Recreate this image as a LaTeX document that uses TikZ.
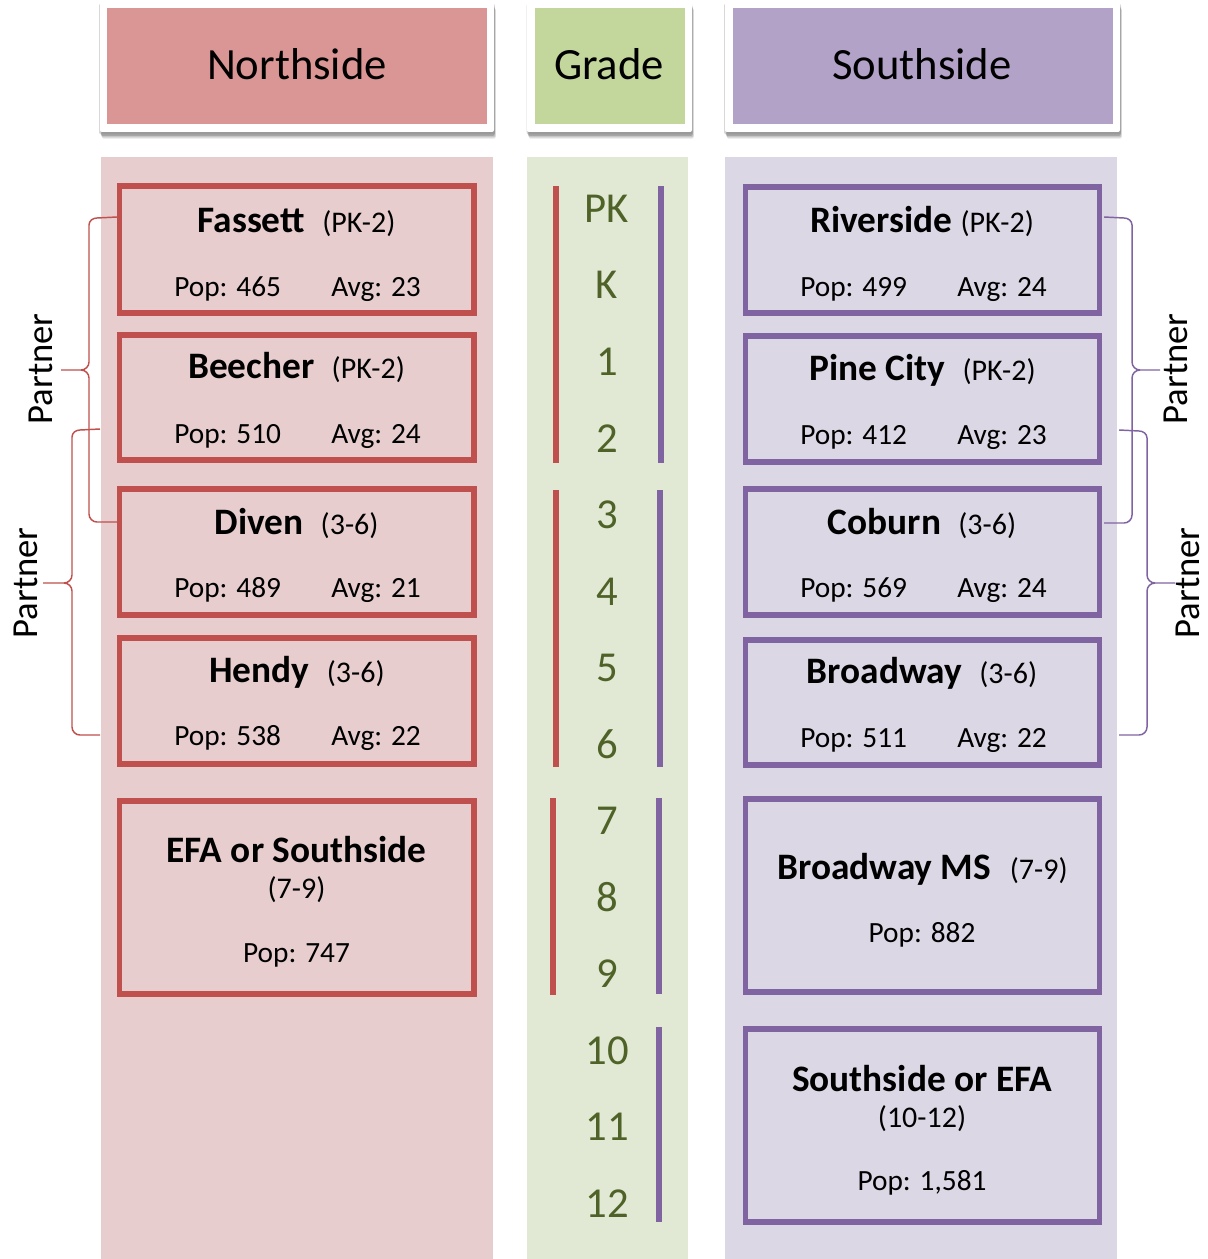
\documentclass[tikz,border=0pt]{standalone}
\usepackage{fontspec}
\setmainfont{Carlito}
\usetikzlibrary{fit,shadows}
\definecolor{nsred}{HTML}{C0504D}
\definecolor{sspur}{HTML}{8064A2}
\definecolor{nshead}{HTML}{D99694}
\definecolor{grhead}{HTML}{C3D69B}
\definecolor{sshead}{HTML}{B3A2C7}
\definecolor{nsbg}{HTML}{E7CDCE}
\definecolor{grbg}{HTML}{E1E9D5}
\definecolor{ssbg}{HTML}{DCD7E5}
\definecolor{grtxt}{HTML}{4F6228}
\newcommand{\rngf}{\fontsize{22.5}{25}\selectfont\mdseries}
\begin{document}
\begin{tikzpicture}[x=0.75pt,y=-0.75pt,
  colbg/.style={inner sep=0pt, draw=none},
  hdout/.style={inner sep=0pt, fill=white, rounded corners=1.5pt,
    drop shadow={shadow xshift=1.4pt, shadow yshift=-5pt, opacity=0.2},
    drop shadow={shadow xshift=1pt, shadow yshift=-4pt, opacity=0.3},
    drop shadow={shadow xshift=0.6pt, shadow yshift=-3pt, opacity=0.45},
    drop shadow={shadow xshift=0pt, shadow yshift=-1.5pt, shadow scale=1.005, opacity=0.3}},
  hdin/.style={inner sep=0pt, draw=none},
  hdtxt/.style={font=\fontsize{33.5}{36}\selectfont, anchor=base, inner sep=0pt},
  sbox/.style={inner sep=0pt, line width=4pt},
  redbox/.style={sbox, draw=nsred},
  purbox/.style={sbox, draw=sspur},
  sname/.style={font=\fontsize{28}{30}\selectfont\bfseries, anchor=base, inner sep=0pt},
  srng/.style={font=\rngf, anchor=base, inner sep=0pt},
  pop/.style={font=\fontsize{22}{24}\selectfont, anchor=base west, inner sep=0pt},
  popc/.style={font=\fontsize{22}{24}\selectfont, anchor=base, inner sep=0pt},
  grade/.style={font=\fontsize{32}{36}\selectfont, text=grtxt, anchor=base, inner sep=0pt},
  partner/.style={font=\fontsize{27.5}{30}\selectfont, rotate=90, anchor=base, inner sep=0pt},
  brace/.style={line width=1.1pt},
  gline/.style={line width=4.5pt}]
\useasboundingbox (0,0) rectangle (1207,1259);
\fill[white] (0,0) rectangle (1207,1259);

% column backgrounds
\node[colbg, fill=nsbg, fit={(101,157)(493,1259)}] (nscol) {};
\node[colbg, fill=grbg, fit={(527,157)(688,1259)}] (grcol) {};
\node[colbg, fill=ssbg, fit={(725,157)(1117,1259)}] (sscol) {};

% headers
\node[hdout, fit={(100,2)(494,132)}] (nshdo) {};
\node[hdin, fill=nshead, fit={(107,8)(487,124)}] (nshd) {};
\node[hdtxt] (nshdt) at (297,80) {Northside};
\node[hdout, fit={(527,2)(692,132)}] (grhdo) {};
\node[hdin, fill=grhead, fit={(535,8)(685,124)}] (grhd) {};
\node[hdtxt] (grhdt) at (609,80) {Grade};
\node[hdout, fit={(725,2)(1120,132)}] (sshdo) {};
\node[hdin, fill=sshead, fit={(733,8)(1113,124)}] (sshd) {};
\node[hdtxt] (sshdt) at (922,80) {Southside};

% Northside boxes
\node[redbox, fit={(119.5,186)(474,313)}] (fas) {};
\node[sname] (fasn) at (296.5,232) {Fassett\hspace{13pt}{\rngf (PK-2)}};
\node[pop] (fasp) at (174,296) {Pop: 465};
\node[pop] (fasa) at (331,296) {Avg: 23};

\node[redbox, fit={(119.5,335)(474,460)}] (bee) {};
\node[sname] (been) at (296.5,378) {Beecher\hspace{13pt}{\rngf (PK-2)}};
\node[pop] (beep) at (174,443) {Pop: 510};
\node[pop] (beea) at (331,443) {Avg: 24};

\node[redbox, fit={(119.5,489)(474,615)}] (div) {};
\node[sname] (divn) at (296.5,534) {Diven\hspace{13pt}{\rngf (3-6)}};
\node[pop] (divp) at (174,597) {Pop: 489};
\node[pop] (diva) at (331,597) {Avg: 21};

\node[redbox, fit={(119.5,638)(474,764)}] (hen) {};
\node[sname] (henn) at (297,682) {Hendy\hspace{13pt}{\rngf (3-6)}};
\node[pop] (henp) at (174,745) {Pop: 538};
\node[pop] (hena) at (331,745) {Avg: 22};

\node[redbox, fit={(119.5,801)(474,994)}] (efa) {};
\node[sname] (efan) at (296.5,862) {EFA or Southside};
\node[srng] (efar) at (296.5,898) {(7-9)};
\node[popc] (efap) at (296.5,962) {Pop: 747};

% Southside boxes
\node[purbox, fit={(745.5,187)(1099.5,313)}] (riv) {};
\node[sname] (rivn) at (922,232) {Riverside {\rngf (PK-2)}};
\node[pop] (rivp) at (800,296) {Pop: 499};
\node[pop] (riva) at (957,296) {Avg: 24};

\node[purbox, fit={(745.5,336)(1099.5,462)}] (pin) {};
\node[sname] (pinn) at (922.5,380) {Pine City\hspace{13pt}{\rngf (PK-2)}};
\node[pop] (pinp) at (800,444) {Pop: 412};
\node[pop] (pina) at (957,444) {Avg: 23};

\node[purbox, fit={(745.5,489)(1099.5,615)}] (cob) {};
\node[sname] (cobn) at (922,534) {Coburn\hspace{13pt}{\rngf (3-6)}};
\node[pop] (cobp) at (800,597) {Pop: 569};
\node[pop] (coba) at (957,597) {Avg: 24};

\node[purbox, fit={(745.5,640)(1099.5,765)}] (bro) {};
\node[sname] (bron) at (922,683) {Broadway\hspace{13pt}{\rngf (3-6)}};
\node[pop] (brop) at (800,747) {Pop: 511};
\node[pop] (broa) at (957,747) {Avg: 22};

\node[purbox, fit={(745.5,799)(1099.5,992)}] (bms) {};
\node[sname] (bmsn) at (922.5,879) {Broadway MS\hspace{14pt}{\rngf (7-9)}};
\node[popc] (bmsp) at (922,942) {Pop: 882};

\node[purbox, fit={(745.5,1029)(1099.5,1222)}] (sef) {};
\node[sname] (sefn) at (922,1091) {Southside or EFA};
\node[srng] (sefr) at (922,1127) {(10-12)};
\node[popc] (sefp) at (922,1190) {Pop: 1,581};

% grade labels
\node[grade] (gPK) at (607,222) {PK};
\node[grade] (gK) at (607,298.5) {K};
\node[grade] (g1) at (607,375) {1};
\node[grade] (g2) at (607,452) {2};
\node[grade] (g3) at (607,528) {3};
\node[grade] (g4) at (607,605) {4};
\node[grade] (g5) at (607,681) {5};
\node[grade] (g6) at (607,758) {6};
\node[grade] (g7) at (607,834) {7};
\node[grade] (g8) at (607,911) {8};
\node[grade] (g9) at (607,987) {9};
\node[grade] (g10) at (607,1064) {10};
\node[grade] (g11) at (607,1140) {11};
\node[grade] (g12) at (607,1217) {12};

% grade span lines
\draw[gline, nsred] (556,186) -- (556,463);
\draw[gline, sspur] (661,186) -- (661,463);
\draw[gline, nsred] (556,490) -- (556,767);
\draw[gline, sspur] (660,490) -- (660,767);
\draw[gline, nsred] (553,798) -- (553,995);
\draw[gline, sspur] (659,798) -- (659,994);
\draw[gline, sspur] (659,1027) -- (659,1222);

% braces
\coordinate (bA1) at (117,217); \coordinate (bA2) at (117,522); \coordinate (bAt) at (61,370);
\draw[brace, nsred] (bA1) -- (97,218) to[out=180,in=90] (89,225) -- (89,362)
  to[out=-90,in=0] (81,370) -- (bAt);
\draw[brace, nsred] (81,370) to[out=0,in=90] (89,378) -- (89,514)
  to[out=-90,in=180] (97,522) -- (bA2);
\coordinate (bB1) at (100,429); \coordinate (bB2) at (100,735); \coordinate (bBt) at (43,583);
\draw[brace, nsred] (bB1) -- (80,430) to[out=180,in=90] (72,437) -- (72,575)
  to[out=-90,in=0] (64,583) -- (bBt);
\draw[brace, nsred] (64,583) to[out=0,in=90] (72,591) -- (72,727)
  to[out=-90,in=180] (80,735) -- (bB2);
\coordinate (bC1) at (1104,217); \coordinate (bC2) at (1104,523); \coordinate (bCt) at (1160,370);
\draw[brace, sspur] (bC1) -- (1124,218) to[out=0,in=90] (1132,225) -- (1132,362)
  to[out=-90,in=180] (1140,370) -- (bCt);
\draw[brace, sspur] (1140,370) to[out=180,in=90] (1132,378) -- (1132,515)
  to[out=-90,in=0] (1124,523) -- (bC2);
\coordinate (bD1) at (1119,430); \coordinate (bD2) at (1119,735); \coordinate (bDt) at (1175,583);
\draw[brace, sspur] (bD1) -- (1139,431) to[out=0,in=90] (1147,438) -- (1147,575)
  to[out=-90,in=180] (1155,583) -- (bDt);
\draw[brace, sspur] (1155,583) to[out=180,in=90] (1147,591) -- (1147,727)
  to[out=-90,in=0] (1139,735) -- (bD2);

% partner labels
\node[partner] (pA) at (52,369) {Partner};
\node[partner] (pB) at (37,583) {Partner};
\node[partner] (pC) at (1187,369) {Partner};
\node[partner] (pD) at (1199,583) {Partner};
\end{tikzpicture}
\end{document}
